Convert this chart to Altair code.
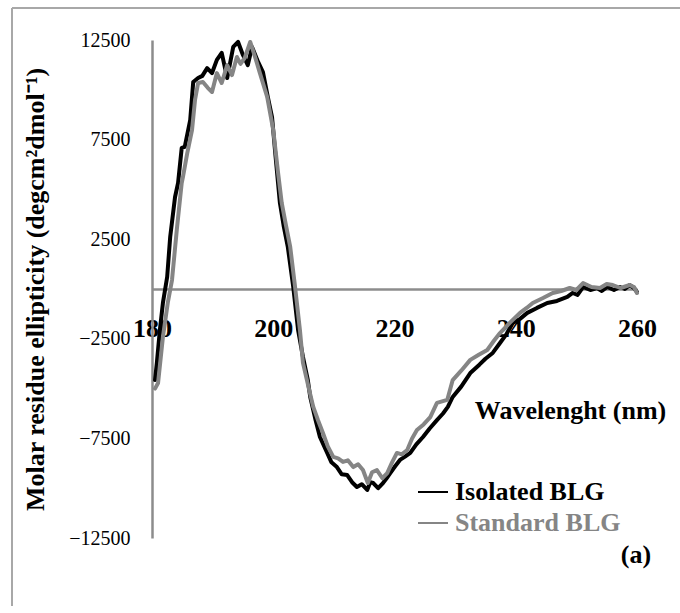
import altair as alt
import pandas as pd

# Isolated BLG (black)
iso_wl = [180.5, 180.8, 181.3, 181.8, 182.5, 183.0, 183.8, 184.3, 184.9, 185.4, 186.3, 186.8,
          187.6, 188.3, 189.1, 189.9, 190.7, 191.5, 192.4, 193.4, 194.2, 195.0, 195.8, 196.5,
          197.5, 198.3, 199.1, 199.8, 200.4, 201.1, 201.7, 202.4, 203.3, 204.1, 204.9, 205.7,
          206.1, 207.0, 207.7, 208.9, 209.6, 210.5, 211.3, 212.2, 213.0, 213.8, 214.6, 215.5,
          216.0, 216.5, 217.3, 218.1, 218.7, 219.3, 220.1, 220.9, 221.8, 222.6, 223.6, 224.7,
          225.8, 227.0, 228.0, 228.8, 229.6, 231.0, 232.5, 234.0, 235.0, 236.2, 237.4, 238.5,
          239.5, 240.7, 241.9, 243.5, 245.2, 246.8, 248.5, 249.4, 250.2, 251.1, 252.3, 253.4,
          254.2, 255.1, 256.2, 257.2, 258.0, 258.8, 259.5, 260.0]
iso_val = [-4570, -3710, -2060, -700, 600, 2610, 4620, 5320, 7080, 7130, 8480, 10390,
           10590, 10700, 11090, 10840, 11500, 11850, 10590, 12150, 12400, 11750, 11240, 12150,
           11400, 10890, 9640, 8630, 6600, 4320, 3200, 2110, 100, -2060, -3410, -4570,
           -5420, -6600, -7430, -8230, -8700, -8940, -9300, -9340, -9700, -9940, -9800, -10090,
           -9700, -9740, -10000, -9740, -9500, -9240, -8900, -8580, -8400, -8230, -7800, -7430,
           -7000, -6580, -6250, -5920, -5420, -4900, -4220, -3800, -3500, -3210, -2710, -2250,
           -1710, -1500, -1200, -950, -700, -600, -400, -200, -300, 100, -50, 50,
           -100, 100, -50, 100, 0, 200, 50, -150]

# Standard BLG (gray)
std_wl = [180.5, 181.0, 181.8, 182.6, 183.3, 184.1, 184.9, 185.1, 185.8, 186.6, 187.1, 187.6,
          188.4, 189.2, 189.9, 190.7, 191.5, 192.4, 193.2, 194.0, 194.6, 195.3, 196.2, 197.0,
          197.8, 199.0, 200.0, 200.8, 201.4, 202.1, 202.8, 203.6, 204.4, 204.9, 205.8, 206.6,
          207.4, 208.2, 209.0, 209.9, 210.7, 211.5, 212.3, 213.2, 214.0, 214.8, 215.6, 216.3,
          217.1, 218.0, 218.8, 219.6, 220.4, 221.2, 222.1, 222.9, 223.7, 224.8, 225.9, 227.0,
          228.7, 229.6, 231.0, 232.5, 233.9, 235.3, 236.4, 237.4, 239.0, 240.7, 241.8, 242.8,
          244.5, 246.1, 247.5, 248.9, 250.0, 251.1, 252.5, 253.9, 255.0, 256.0, 257.3, 258.8,
          259.5, 260.0]
std_val = [-5000, -4720, -2410, -700, 450, 3000, 5320, 5620, 6800, 7980, 9500, 10340,
           10390, 10100, 9890, 10840, 10340, 11240, 10740, 11650, 11300, 11600, 12400, 11650,
           10840, 9640, 7980, 5820, 4320, 3200, 2110, 100, -2060, -3710, -4900, -5920,
           -6600, -7230, -7900, -8430, -8500, -8680, -8600, -8940, -8800, -9090, -9740, -9200,
           -9090, -9500, -9240, -8700, -8230, -8300, -8080, -7500, -7080, -6800, -6430, -5720,
           -5570, -4570, -4100, -3560, -3300, -3060, -2600, -2210, -1700, -1200, -950, -700,
           -450, -200, -100, 50, -50, 300, 100, 50, 250, 200, 50, 200,
           100, -200]

series_names = ["Isolated BLG", "Standard BLG"]
series_colors = ["#000000", "#858585"]
x_ticks = [180, 200, 220, 240, 260]
y_ticks = [-12500, -7500, -2500, 2500, 7500, 12500]

df = pd.concat([
    pd.DataFrame({"wl": iso_wl, "val": iso_val, "series": series_names[0], "order": 0}),
    pd.DataFrame({"wl": std_wl, "val": std_val, "series": series_names[1], "order": 1}),
], ignore_index=True)

FONT = "Liberation Serif"
W, H = 485, 498

lines = alt.Chart(df).mark_line(strokeWidth=4, strokeJoin="round", strokeCap="round", clip=False).encode(
    x=alt.X("wl:Q", scale=alt.Scale(domain=[180, 260], nice=False, zero=False),
            axis=alt.Axis(values=x_ticks, title="Wavelenght (nm)", offset=-H / 2,
                          ticks=False, tickSize=0, grid=False, labelFlush=False,
                          domainColor="#8c8c8c", domainWidth=2.5,
                          labelFont=FONT, labelFontSize=26, labelFontWeight="bold",
                          labelColor="black", labelPadding=26, labelBaseline="top",
                          titleFont=FONT, titleFontSize=26, titleFontWeight="bold",
                          titleColor="black", titleX=418, titleY=121,
                          titleAlign="center", titleBaseline="middle", zindex=0)),
    y=alt.Y("val:Q", scale=alt.Scale(domain=[-12500, 12500], nice=False, zero=False),
            axis=alt.Axis(values=y_ticks, format="d",
                          title="Molar residue ellipticity (degcm²dmol⁻¹)",
                          ticks=False, tickSize=0, grid=False,
                          domainColor="#8c8c8c", domainWidth=2.5,
                          labelFont=FONT, labelFontSize=20, labelColor="black",
                          labelPadding=22,
                          titleFont=FONT, titleFontSize=26, titleFontWeight="bold",
                          titleColor="black", titleX=-117, titleY=H / 2,
                          titleAngle=270, titleAlign="center", titleBaseline="middle",
                          zindex=0)),
    color=alt.Color("series:N",
                    scale=alt.Scale(domain=series_names, range=series_colors),
                    legend=alt.Legend(title=None, orient="none", legendX=265, legendY=436,
                                      symbolType="stroke", symbolSize=900,
                                      symbolStrokeWidth=2, labelFont=FONT,
                                      labelFontSize=26, labelFontWeight="bold",
                                      labelColor=alt.ExprRef("datum.label == 'Standard BLG' ? '#858585' : '#000000'"),
                                      labelLimit=0, labelOffset=6, rowPadding=2)),
    order="order:Q",
    detail="series:N",
)

one = pd.DataFrame({"k": [0]})
frame_top = alt.Chart(one).mark_rule(stroke="#a8a8a8", strokeWidth=2).encode(
    x=alt.value(-140), x2=alt.value(528), y=alt.value(-32))
frame_left = alt.Chart(one).mark_rule(stroke="#a8a8a8", strokeWidth=2).encode(
    x=alt.value(-140), y=alt.value(-32), y2=alt.value(580))

label_a = alt.Chart(pd.DataFrame({"t": ["(a)"]})).mark_text(
    font=FONT, fontSize=26, fontWeight="bold", color="black", align="center", baseline="middle"
).encode(text="t:N", x=alt.value(484), y=alt.value(515))

chart = alt.layer(frame_top, frame_left, lines, label_a).properties(
    width=W, height=H,
    autosize=alt.AutoSizeParams(type="none"),
    padding={"left": 152, "top": 40, "right": 43, "bottom": 68},
    background="white",
).configure_view(stroke=None)

chart.save("out.html", embed_options={"renderer": "svg", "actions": False})
